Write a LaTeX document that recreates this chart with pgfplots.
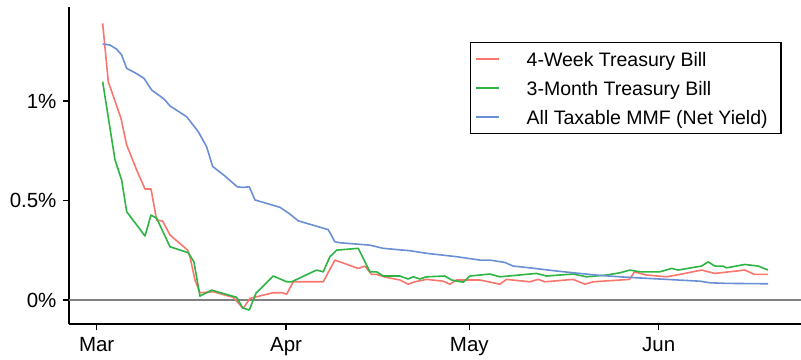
\documentclass[border=0pt]{standalone}
\usepackage{fontspec}
\setmainfont{Liberation Sans}
\usepackage{pgfplots}
\pgfplotsset{compat=1.18}
\definecolor{cred}{HTML}{F8766D}
\definecolor{cgreen}{HTML}{2DB443}
\definecolor{cblue}{HTML}{6A8FD6}
\begin{document}
\begin{tikzpicture}
\begin{axis}[
  scale only axis, width=732bp, height=317bp,
  xmin=-4.53, xmax=115.3, ymin=-0.12, ymax=1.472,
  axis x line*=bottom, axis y line*=left,
  axis line style={line width=1.7bp, black},
  xtick={0,31,61,92}, xticklabels={Mar,Apr,May,Jun},
  ytick={0,0.5,1}, yticklabels={0\%,0.5\%,1\%},
  tick style={line width=1.5bp, black},
  tick align=outside, major tick length=6bp,
  ticklabel style={font=\fontsize{20.5bp}{23bp}\selectfont},
  xticklabel style={yshift=-4bp},
  yticklabel style={xshift=-3bp},
  no markers,
  every axis plot/.append style={line width=1.6bp, line join=round},
  legend image code/.code={\draw[#1] (0bp,0bp) -- (23bp,0bp);},
  legend cell align=left,
  legend style={at={(0.9736,0.8905)}, anchor=north east, draw=black, line width=1.3bp,
    font=\fontsize{19.5bp}{22bp}\selectfont, inner xsep=4.7bp, inner ysep=7bp,
    column sep=27bp, row sep=10bp,
    nodes={inner sep=0bp, text height=17bp, text depth=2bp}},
]
\addplot[forget plot, color=black!50, line width=1.5bp] coordinates {(-4.53,0) (115.3,0)};
\addplot[cred] coordinates {(0.98,1.390) (1.90,1.097) (3.98,0.913) (4.91,0.779) (5.89,0.704) (6.55,0.653) (7.91,0.558) (8.89,0.558) (9.82,0.402) (10.80,0.397) (12.00,0.327) (14.89,0.251) (15.27,0.218) (16.09,0.101) (16.91,0.037) (19.08,0.042) (22.36,0.014) (23.99,-0.042) (25.09,0.009) (28.90,0.037) (30.33,0.037) (31.10,0.030) (32.18,0.092) (37.09,0.092) (39.0,0.201) (42.82,0.159) (43.91,0.171) (45.0,0.129) (45.83,0.129) (47.18,0.116) (49.64,0.101) (51.0,0.080) (52.1,0.092) (54.01,0.104) (56.73,0.095) (57.82,0.080) (58.92,0.101) (62.73,0.101) (66.0,0.080) (67.1,0.104) (70.92,0.092) (72.27,0.104) (73.37,0.092) (78.0,0.104) (79.92,0.080) (81.28,0.092) (87.22,0.104) (88.04,0.142) (89.96,0.126) (93.29,0.117) (95.47,0.129) (99.02,0.151) (101.2,0.134) (106.1,0.151) (107.7,0.129) (109.9,0.129)};
\addlegendentry{4-Week Treasury Bill}
\addplot[cgreen] coordinates {(0.98,1.097) (3.0,0.704) (4.09,0.603) (4.91,0.444) (7.91,0.322) (8.89,0.427) (9.82,0.411) (12.0,0.268) (14.99,0.238) (15.92,0.192) (16.91,0.020) (18.82,0.050) (22.91,0.014) (23.90,-0.039) (24.98,-0.050) (26.07,0.034) (28.90,0.121) (31.10,0.092) (31.92,0.092) (36.0,0.151) (37.09,0.142) (38.18,0.218) (39.28,0.251) (42.82,0.260) (44.73,0.142) (45.83,0.142) (46.91,0.121) (49.64,0.121) (51.0,0.106) (51.82,0.117) (52.91,0.106) (54.01,0.117) (57.0,0.121) (58.1,0.101) (60.0,0.090) (61.1,0.121) (64.37,0.131) (66.0,0.117) (72.01,0.134) (73.65,0.121) (78.0,0.131) (80.2,0.117) (83.47,0.126) (85.65,0.137) (87.29,0.151) (88.92,0.142) (92.2,0.142) (94.11,0.159) (95.19,0.151) (99.02,0.171) (100.1,0.192) (101.2,0.171) (102.55,0.171) (103.1,0.162) (106.1,0.179) (108.3,0.171) (109.9,0.151)};
\addlegendentry{3-Month Treasury Bill}
\addplot[cblue] coordinates {(0.98,1.286) (2.18,1.281) (3.27,1.260) (4.09,1.231) (4.91,1.164) (6.27,1.142) (7.74,1.114) (9.0,1.055) (10.36,1.025) (11.18,1.005) (12.0,0.975) (14.73,0.921) (16.63,0.846) (18.0,0.770) (18.99,0.671) (21.0,0.623) (23.01,0.569) (23.99,0.566) (24.98,0.569) (25.91,0.503) (30.0,0.466) (31.64,0.432) (33.0,0.398) (37.9,0.354) (39.0,0.293) (39.82,0.288) (44.73,0.276) (46.91,0.260) (51.28,0.248) (54.01,0.235) (58.92,0.218) (62.73,0.201) (64.37,0.201) (66.83,0.189) (68.18,0.171) (70.92,0.162) (75.29,0.146) (77.46,0.139) (82.37,0.124) (85.65,0.117) (87.29,0.114) (93.29,0.104) (98.74,0.095) (100.37,0.087) (103.1,0.084) (109.9,0.082)};
\addlegendentry{All Taxable MMF (Net Yield)\hspace*{8.7bp}}
\end{axis}
\pgfresetboundingbox
\path[use as bounding box] (-69bp,-36bp) rectangle (732bp,324bp);
\end{tikzpicture}
\end{document}
